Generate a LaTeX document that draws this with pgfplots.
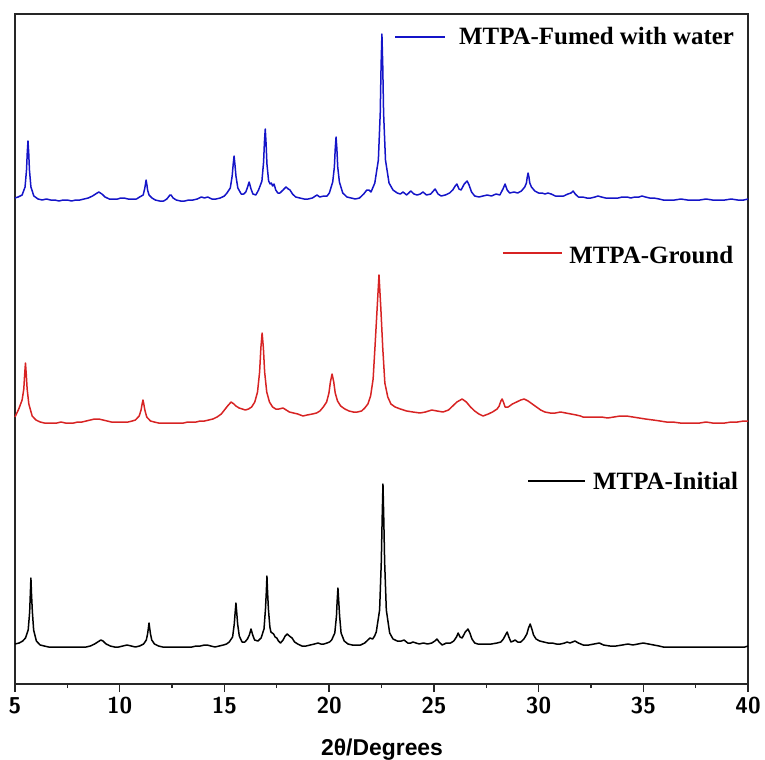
\documentclass[border=0pt]{standalone}
\usepackage{pgfplots}
\pgfplotsset{compat=1.18}
\usepackage{pgfplotstable}
\usepackage{fontspec}
\setmainfont{Liberation Serif}
\newfontfamily\arial{Liberation Sans}
\definecolor{cblue}{RGB}{20,20,200}
\definecolor{cred}{RGB}{215,35,35}

\pgfplotstableread{
x y
5.00 486
5.15 487
5.34 489
5.48 497
5.55 514
5.585 531
5.62 543
5.655 531
5.69 514
5.76 497
5.90 488
6.10 485
6.30 484
6.50 485
6.70 484
6.90 484
7.10 483
7.30 484
7.50 484
7.70 483
7.90 484
8.10 484
8.30 485
8.50 486
8.70 488
8.85 490
9.00 492
9.15 490
9.30 487
9.50 485
9.70 485
9.90 485
10.05 486
10.20 486
10.40 485
10.60 485
10.80 485
10.95 487
11.12 489
11.19 495
11.23 500
11.26 504
11.30 499
11.33 494
11.40 489
11.54 486
11.70 484
11.90 483
12.10 483
12.25 485
12.40 489
12.45 489
12.55 486
12.70 484
12.90 483
13.10 483
13.30 484
13.50 484
13.70 485
13.90 487
14.05 486
14.20 487
14.40 485
14.60 485
14.80 486
15.00 488
15.12 491
15.28 496
15.37 508
15.42 520
15.46 528
15.50 520
15.55 508
15.64 496
15.80 490
15.92 490
16.02 492
16.09 496
16.18 502
16.27 495
16.36 490
16.50 489
16.63 494
16.79 503
16.87 522
16.91 542
16.95 555
16.99 540
17.03 520
17.11 503
17.18 500
17.24 501
17.30 498
17.37 500
17.45 494
17.55 491
17.65 491
17.80 494
17.94 497
18.05 495
18.13 494
18.25 490
18.40 487
18.60 486
18.80 485
19.00 485
19.20 486
19.42 489
19.55 487
19.75 488
19.90 488
20.01 491
20.17 502
20.25 517
20.29 535
20.33 547
20.37 535
20.41 517
20.49 502
20.65 491
20.85 487
21.05 486
21.25 485
21.45 486
21.65 490
21.80 494
21.90 494
22.00 492
22.18 501
22.35 524
22.44 571
22.48 618
22.52 650
22.56 618
22.60 571
22.69 524
22.86 501
23.05 494
23.25 491
23.40 490
23.53 492
23.70 489
23.90 493
24.05 490
24.20 489
24.35 490
24.48 492
24.65 489
24.85 490
25.06 495
25.20 490
25.35 488
25.55 489
25.75 491
25.90 494
26.02 498
26.10 500
26.20 495
26.30 494
26.45 500
26.59 503
26.68 499
26.80 492
26.95 488
27.15 487
27.35 488
27.55 489
27.75 488
27.97 490
28.15 489
28.30 495
28.40 500
28.50 494
28.62 491
28.83 492
29.00 491
29.18 493
29.34 497
29.42 501
29.46 507
29.50 511
29.54 507
29.58 501
29.66 497
29.82 493
30.00 491
30.17 491
30.30 490
30.45 491
30.60 490
30.80 488
31.00 488
31.20 488
31.40 490
31.55 491
31.65 493
31.75 490
31.90 487
32.10 487
32.30 486
32.50 486
32.70 487
32.84 488
33.00 487
33.20 486
33.40 486
33.60 486
33.80 486
34.00 487
34.23 487
34.40 486
34.60 487
34.80 487
34.94 488
35.10 487
35.30 486
35.50 486
35.75 485
35.95 484
36.20 484
36.50 484
36.80 485
37.10 484
37.40 484
37.70 484
38.00 485
38.30 484
38.60 484
38.90 484
39.20 485
39.50 484
39.80 484
40.00 485
}\fumed

\pgfplotstableread{
x y
5.00 267
5.18 275
5.34 284
5.42 295
5.46 309
5.50 321
5.54 309
5.58 295
5.66 280
5.82 268
6.00 264
6.20 262
6.40 261
6.60 261
6.80 261
7.00 261
7.20 262
7.40 261
7.60 261
7.80 261
8.00 262
8.20 262
8.40 263
8.60 264
8.80 265
9.00 265
9.20 264
9.40 263
9.60 262
9.80 262
10.00 262
10.20 262
10.40 262
10.60 263
10.75 264
10.93 268
11.02 274
11.07 280
11.11 284
11.15 280
11.20 274
11.29 267
11.47 263
11.65 262
11.85 261
12.05 261
12.25 261
12.45 261
12.65 261
12.85 261
13.05 261
13.25 262
13.45 262
13.65 262
13.85 263
14.05 263
14.25 264
14.45 265
14.65 267
14.85 270
15.00 274
15.15 278
15.32 282
15.45 280
15.55 278
15.70 276
15.85 275
16.00 274
16.15 275
16.30 277
16.45 282
16.58 292
16.68 312
16.74 336
16.80 351
16.86 336
16.92 312
17.02 292
17.15 282
17.30 277
17.45 275
17.60 275
17.80 276
17.95 274
18.10 272
18.30 271
18.50 270
18.75 268
18.95 269
19.20 270
19.40 271
19.56 273
19.72 277
19.88 282
19.99 291
20.06 302
20.14 310
20.22 302
20.29 291
20.40 283
20.55 278
20.75 275
20.95 273
21.15 272
21.35 272
21.55 273
21.70 276
21.85 280
21.98 288
22.10 305
22.20 341
22.29 375
22.38 409
22.47 375
22.56 336
22.66 301
22.80 287
22.95 280
23.15 277
23.40 275
23.70 273
24.00 272
24.34 271
24.60 272
24.90 274
25.15 273
25.44 272
25.70 274
25.90 278
26.10 282
26.35 285
26.55 282
26.75 277
26.95 273
27.15 270
27.35 268
27.60 270
27.80 272
28.02 275
28.12 278
28.20 283
28.26 285
28.32 282
28.40 277
28.55 277
28.75 280
28.95 282
29.15 284
29.31 285
29.50 283
29.70 280
29.90 277
30.10 274
30.30 272
30.55 271
30.80 271
31.05 272
31.30 271
31.55 270
31.80 269
32.00 268
32.12 267
32.40 267
32.70 267
33.00 267
33.30 266
33.60 267
33.90 268
34.20 268
34.50 267
34.80 266
35.10 265
35.47 264
35.80 263
36.10 262
36.40 262
36.76 261
37.10 261
37.40 261
37.70 261
38.00 262
38.30 261
38.60 261
38.90 261
39.20 262
39.50 262
39.80 263
40.00 263
}\ground

\pgfplotstableread{
x y
5.00 40
5.20 41
5.37 43
5.50 46
5.63 54
5.70 72
5.73 89
5.76 106
5.79 89
5.83 72
5.89 54
6.02 43
6.20 39
6.40 38
6.60 37
6.80 37
7.00 37
7.20 37
7.40 37
7.60 37
7.80 37
8.00 37
8.20 37
8.40 37
8.60 38
8.80 40
8.95 42
9.10 44
9.20 43
9.35 40
9.55 38
9.75 37
9.95 37
10.15 38
10.35 39
10.55 38
10.75 37
10.95 38
11.14 40
11.27 44
11.33 50
11.37 56
11.40 61
11.43 56
11.47 50
11.53 44
11.66 40
11.85 38
12.05 37
12.25 37
12.45 37
12.65 37
12.85 37
13.05 37
13.25 37
13.45 37
13.65 38
13.85 38
14.05 39
14.17 39
14.35 38
14.55 37
14.75 38
14.95 39
15.10 40
15.23 42
15.39 47
15.47 60
15.51 71
15.55 81
15.59 71
15.63 60
15.71 48
15.84 42
15.98 42
16.10 45
16.19 49
16.27 55
16.35 49
16.44 44
16.60 43
16.75 46
16.89 55
16.96 75
17.00 92
17.03 108
17.06 92
17.10 75
17.17 57
17.22 52
17.28 51
17.35 50
17.42 47
17.50 46
17.58 43
17.68 41
17.80 44
17.90 48
18.00 50
18.10 48
18.23 46
18.35 42
18.50 40
18.70 38
18.90 38
19.10 39
19.30 40
19.47 41
19.60 40
19.75 40
19.90 41
20.02 42
20.12 44
20.27 51
20.35 68
20.38 82
20.42 96
20.46 82
20.50 68
20.57 51
20.72 43
20.90 40
21.10 39
21.30 39
21.50 39
21.70 41
21.85 44
21.95 46
22.08 45
22.17 48
22.25 52
22.41 74
22.49 122
22.53 164
22.57 200
22.61 164
22.65 122
22.73 74
22.89 51
23.05 45
23.25 43
23.45 43
23.58 44
23.75 41
23.90 41
24.00 42
24.15 41
24.30 40
24.50 41
24.70 40
24.90 41
25.05 43
25.15 45
25.25 42
25.40 39
25.60 41
25.80 41
25.95 43
26.08 47
26.16 51
26.25 47
26.35 46
26.50 52
26.63 55
26.72 51
26.82 45
26.95 41
27.10 40
27.30 40
27.50 40
27.75 40
28.02 41
28.20 42
28.32 45
28.42 49
28.50 52
28.58 47
28.68 42
28.80 43
28.88 44
29.00 42
29.15 42
29.30 45
29.44 50
29.52 56
29.60 60
29.68 55
29.76 49
29.88 45
30.05 43
30.25 42
30.45 41
30.65 41
30.85 40
31.05 40
31.25 41
31.36 42
31.50 41
31.62 42
31.74 43
31.90 41
32.13 39
32.40 39
32.65 40
32.90 41
33.10 39
33.40 38
33.70 38
34.00 39
34.27 40
34.50 39
34.75 40
34.99 41
35.25 40
35.50 39
35.75 38
35.95 37
36.25 37
36.55 37
36.85 37
37.15 37
37.45 37
37.75 37
38.05 37
38.35 37
38.65 37
38.95 37
39.25 37
39.55 37
39.85 37
40.00 38
}\initial

\begin{document}
\begin{tikzpicture}
\begin{axis}[
  scale only axis,
  width=733bp, height=670bp,
  xmin=5, xmax=40, ymin=0, ymax=670,
  clip=false,
  axis line style={line width=2bp, draw=black!85},
  xtick={5,10,...,40},
  xticklabel={$\mathsf{\pgfmathprintnumber{\tick}}$},
  minor x tick num=1,
  ytick=\empty,
  xtick pos=left,
  tick align=outside,
  major tick length=8bp,
  minor tick length=4bp,
  tick style={black!85, line width=1.3bp},
  xticklabel style={font=\boldmath\fontsize{23}{25}\selectfont, yshift=-2bp},
  xlabel={2θ/Degrees},
  xlabel style={font=\arial\bfseries\fontsize{23}{26}\selectfont, at={(axis description cs:0.5007,-0.106)}, anchor=base, inner sep=0pt},
]
\addplot[cblue, line width=1.5bp, line join=round] table {\fumed};
\addplot[cred, line width=1.5bp, line join=round] table {\ground};
\addplot[black, line width=1.5bp, line join=round] table {\initial};

\draw[cblue, line width=1.5bp] (axis cs:23.15,647) -- (axis cs:25.53,647);
\node[anchor=base west, inner sep=0pt, font=\bfseries\fontsize{25}{28}\selectfont] at (axis cs:26.2,640) {MTPA-Fumed with water};
\draw[cred, line width=1.5bp] (axis cs:28.30,431) -- (axis cs:31.12,431);
\node[anchor=base west, inner sep=0pt, font=\bfseries\fontsize{25}{28}\selectfont] at (axis cs:31.46,421) {MTPA-Ground};
\draw[black, line width=1.5bp] (axis cs:29.5,203) -- (axis cs:32.22,203);
\node[anchor=base west, inner sep=0pt, font=\bfseries\fontsize{25}{28}\selectfont] at (axis cs:32.6,195) {MTPA-Initial};
\end{axis}
\path (current axis.south west) ++(-15bp,-76bp) rectangle ++(765bp,760bp);
\end{tikzpicture}
\end{document}
